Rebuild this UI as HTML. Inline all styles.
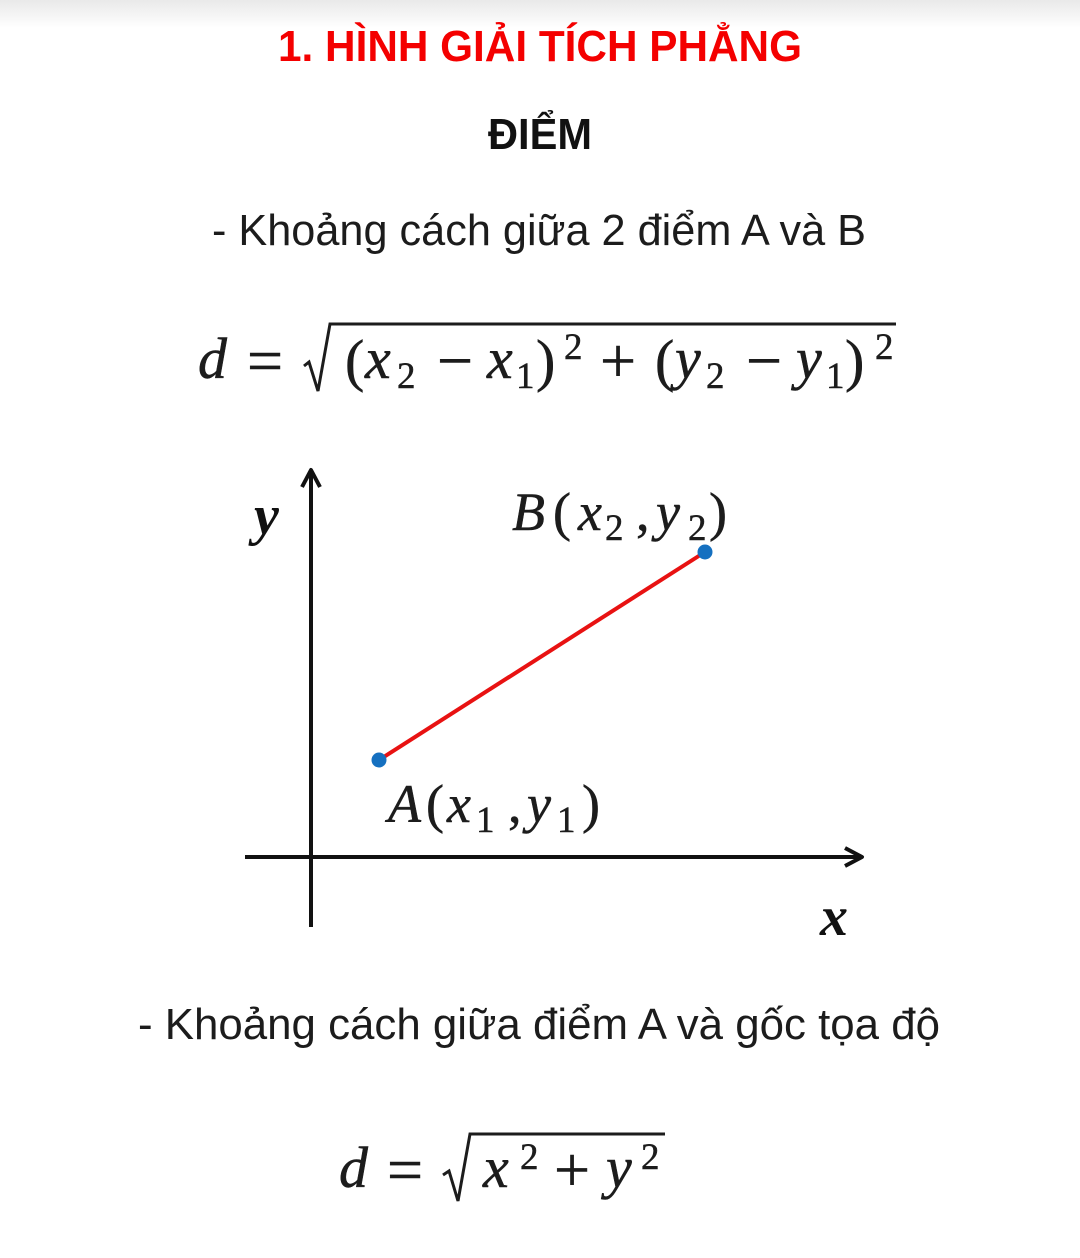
<!DOCTYPE html>
<html lang="vi">
<head>
<meta charset="utf-8">
<title>Hình giải tích phẳng</title>
<style>
html,body{margin:0;padding:0;background:#fff;width:1080px;height:1258px;overflow:hidden}
svg{display:block}
.ui{font-family:"Liberation Sans",sans-serif;fill:#1c1c1c}
.m{font-family:"Liberation Serif",serif;fill:#1c1c1c;stroke:#1c1c1c;stroke-width:.5}
.i{font-style:italic}
.b{font-size:58px}
.o{font-size:64px}
.s{font-size:37px}
.l{font-size:54px}
</style>
</head>
<body>
<svg id="page" width="1080" height="1258" viewBox="0 0 1080 1258" xmlns="http://www.w3.org/2000/svg">
<defs><linearGradient id="topShade" x1="0" y1="0" x2="0" y2="1"><stop offset="0" stop-color="#e9e9e9"/><stop offset="1" stop-color="#ffffff"/></linearGradient></defs>
<rect x="0" y="0" width="1080" height="28" fill="url(#topShade)"/>

<text x="278" y="61" font-family="Liberation Sans" font-weight="700" font-size="44" fill="#f40000" textLength="524" lengthAdjust="spacingAndGlyphs">1. HÌNH GIẢI TÍCH PHẲNG</text>
<text x="488" y="149" font-family="Liberation Sans" font-weight="700" font-size="44" fill="#111" textLength="104" lengthAdjust="spacingAndGlyphs">ĐIỂM</text>
<text class="ui" x="212" y="245" font-size="44" textLength="654" lengthAdjust="spacingAndGlyphs">- Khoảng cách giữa 2 điểm A và B</text>

<g>
<text class="m i b" x="198" y="378">d</text>
<text class="m o" x="247" y="382">=</text>
<path d="M304 366 L309 362 L318 391 L330 324 L896 324" fill="none" stroke="#1c1c1c" stroke-width="3"/>
<text class="m b" x="345" y="380">(</text>
<text class="m i b" x="365" y="378">x</text>
<text class="m s" x="397" y="388">2</text>
<text class="m o" x="437" y="382">−</text>
<text class="m i b" x="487" y="378">x</text>
<text class="m s" x="516" y="388">1</text>
<text class="m b" x="536" y="380">)</text>
<text class="m s" x="564" y="359">2</text>
<text class="m o" x="600" y="382">+</text>
<text class="m b" x="655" y="380">(</text>
<text class="m i b" x="675" y="378">y</text>
<text class="m s" x="706" y="388">2</text>
<text class="m o" x="746" y="382">−</text>
<text class="m i b" x="796" y="378">y</text>
<text class="m s" x="826" y="388">1</text>
<text class="m b" x="845" y="380">)</text>
<text class="m s" x="875" y="359">2</text>
</g>

<g id="chart"></g>

<g>
<text x="254" y="534" font-family="Liberation Serif" font-style="italic" font-weight="700" font-size="56" fill="#111">y</text>
<text x="820" y="935" font-family="Liberation Serif" font-style="italic" font-weight="700" font-size="56" fill="#111">x</text>
</g>

<g>
<text class="m i l" x="512" y="530">B</text>
<text class="m l" x="553" y="530">(</text>
<text class="m i l" x="578" y="530">x</text>
<text class="m s" x="605" y="540">2</text>
<text class="m l" x="636" y="530">,</text>
<text class="m i l" x="656" y="530">y</text>
<text class="m s" x="688" y="540">2</text>
<text class="m l" x="709" y="530">)</text>
</g>
<g>
<text class="m i l" x="388" y="822">A</text>
<text class="m l" x="426" y="822">(</text>
<text class="m i l" x="447" y="822">x</text>
<text class="m s" x="476" y="832">1</text>
<text class="m l" x="508" y="822">,</text>
<text class="m i l" x="527" y="822">y</text>
<text class="m s" x="557" y="832">1</text>
<text class="m l" x="582" y="822">)</text>
</g>

<text class="ui" x="138" y="1039" font-size="44" textLength="802" lengthAdjust="spacingAndGlyphs">- Khoảng cách giữa điểm A và gốc tọa độ</text>

<g>
<text class="m i b" x="339" y="1187">d</text>
<text class="m o" x="387" y="1191">=</text>
<path d="M443 1175 L449 1171 L458 1201 L470 1134 L665 1134" fill="none" stroke="#1c1c1c" stroke-width="3"/>
<text class="m i b" x="483" y="1187">x</text>
<text class="m s" x="520" y="1169">2</text>
<text class="m o" x="554" y="1191">+</text>
<text class="m i b" x="606" y="1187">y</text>
<text class="m s" x="641" y="1169">2</text>
</g>
</svg>
<script>
var pointNames = ['A', 'B'];
var pointX = [68, 394];
var pointY = [97, 305];
var xAxisRange = [-66, 551];
var yAxisRange = [-70, 387];

var originPx = 311;
var originPy = 857;
function xScale(v) { return originPx + v; }
function yScale(v) { return originPy - v; }

var NS = 'http://www.w3.org/2000/svg';
var chart = document.getElementById('chart');
function add(tag, attrs) {
  var el = document.createElementNS(NS, tag);
  for (var k in attrs) { el.setAttribute(k, attrs[k]); }
  chart.appendChild(el);
  return el;
}

var x0 = xScale(xAxisRange[0]), x1 = xScale(xAxisRange[1]);
var y0 = yScale(yAxisRange[0]), y1 = yScale(yAxisRange[1]);

var xAxis = add('path', { d: 'M' + x0 + ' ' + yScale(0) + 'H' + x1 + 'M' + (x1 - 17) + ' ' + (yScale(0) - 9) + 'L' + x1 + ' ' + yScale(0) + 'L' + (x1 - 17) + ' ' + (yScale(0) + 9), fill: 'none', stroke: '#111', 'stroke-width': 4, 'stroke-linejoin': 'round' });



var yAxis = add('path', { d: 'M' + xScale(0) + ' ' + y0 + 'V' + y1 + 'M' + (xScale(0) - 9) + ' ' + (y1 + 17) + 'L' + xScale(0) + ' ' + y1 + 'L' + (xScale(0) + 9) + ' ' + (y1 + 17), fill: 'none', stroke: '#111', 'stroke-width': 4, 'stroke-linejoin': 'round' });



var segment = add('line', { x1: xScale(pointX[0]), y1: yScale(pointY[0]), x2: xScale(pointX[1]), y2: yScale(pointY[1]), stroke: '#e81212', 'stroke-width': 4 });



pointX.forEach(function (v, i) {
  var dot = add('circle', { cx: xScale(v), cy: yScale(pointY[i]), r: 7.5, fill: '#1570c0' });
  
  
});
</script>
</body>
</html>
